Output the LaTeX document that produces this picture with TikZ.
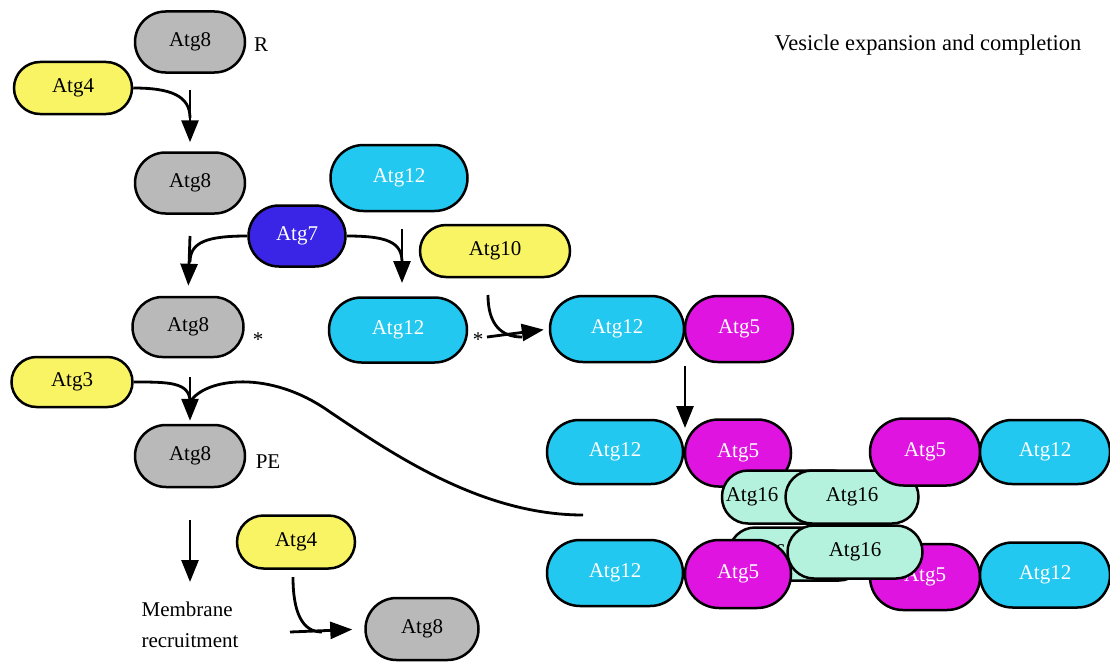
\documentclass[tikz,border=0pt]{standalone}
\usepackage{fontspec}
\setmainfont{Liberation Serif}
\usetikzlibrary{shapes.misc,arrows.meta}
\definecolor{cgray}{HTML}{B9B9B9}
\definecolor{cyel}{HTML}{F9F464}
\definecolor{ccyan}{HTML}{22C8F0}
\definecolor{cmag}{HTML}{E014E0}
\definecolor{cblue}{HTML}{3A24E6}
\definecolor{cmint}{HTML}{B4F2DE}
\begin{document}
\begin{tikzpicture}[x=1pt,y=-1pt,
  lbl/.style={font=\fontsize{21}{31}\selectfont, inner sep=0pt},
  pill/.style={rounded rectangle, draw=black, line width=2.5pt, inner sep=0pt, font=\fontsize{21}{25}\selectfont},
  sz/.style 2 args={minimum width=#1pt, minimum height=#2pt},
  g8/.style={pill, fill=cgray},
  yel/.style={pill, fill=cyel},
  cyn/.style={pill, fill=ccyan, text=white},
  mag/.style={pill, fill=cmag, text=white},
  blu/.style={pill, fill=cblue, text=white},
  mint/.style={pill, fill=cmint},
  mintback/.style={rectangle, rounded corners=26pt, draw=black, line width=2.5pt, inner sep=0pt, fill=cmint, font=\fontsize{21}{25}\selectfont},
  ln/.style={line width=2.8pt},
  arr/.style={line width=2.8pt, -{Triangle[length=22pt,width=17pt]}}]
\useasboundingbox (0,0) rectangle (1110,661);
% left column
\node[g8,sz={110}{61}] (r8) at (190,42) {Atg8};
\node[lbl] (rl) at (261,45) {R};
\node[yel,sz={118}{52}] (a4) at (73,88) {Atg4};
\node[g8,sz={110}{61}] (b8) at (190,183) {Atg8};
\node[cyn,sz={137}{66}] (t12) at (399,178) {Atg12};
\node[blu,sz={97}{61}] (a7) at (297,236) {Atg7};
\node[yel,sz={150}{52}] (a10) at (495,251) {Atg10};
\node[g8,sz={111}{60}] (s8) at (188,327) {Atg8};
\node[lbl] (st1) at (258,340) {*};
\node[cyn,sz={138}{65}] (m12) at (398,330) {Atg12};
\node[lbl] (st2) at (478,340) {*};
\node[cyn,sz={134}{66}] (c12) at (617,329) {Atg12};
\node[mag,sz={108}{66}] (c5) at (739,329) {Atg5};
\node[yel,sz={121}{50}] (a3) at (72,382) {Atg3};
\node[g8,sz={110}{62}] (p8) at (190,456) {Atg8};
\node[lbl] (pe) at (268,462) {PE};
\node[lbl, align=left] (mr) at (190,625) {Membrane\\recruitment};
\node[yel,sz={118}{53}] (b4) at (296,542) {Atg4};
\node[g8,sz={113}{62}] (e8) at (422,629) {Atg8};
\node[lbl, font=\fontsize{22.5}{27}\selectfont] (title) at (928,45) {Vesicle expansion and completion};
% complex, upper row
\node[cyn,sz={136}{64}] (u12a) at (615,452) {Atg12};
\node[mag,sz={106}{67}] (u5a) at (738,453) {Atg5};
\node[mintback,sz={136}{53}] (u16b) at (790,497) {Atg16\kern76pt};
\node[mint,sz={133}{53}] (u16f) at (852,497) {Atg16};
\node[mag,sz={110}{67}] (u5b) at (925,452) {Atg5};
\node[cyn,sz={130}{64}] (u12b) at (1045,452) {Atg12};
% complex, lower row
\node[mintback,sz={136}{53}] (l16b) at (797,554) {Atg16\kern76pt};
\node[cyn,sz={136}{66}] (l12a) at (615,573) {Atg12};
\node[mag,sz={106}{68}] (l5a) at (738,574) {Atg5};
\node[mag,sz={110}{66}] (l5b) at (925,577) {Atg5};
\node[cyn,sz={130}{65}] (l12b) at (1045,575) {Atg12};
\node[mint,sz={135}{53}] (l16f) at (855,552) {Atg16};
% junction coordinates
\coordinate (j1) at (190,90);   \coordinate (k1) at (190,118);
\coordinate (j2) at (190,236);  \coordinate (k2) at (190,262);
\coordinate (j3) at (402,229);  \coordinate (k3) at (402,262); \coordinate (t3) at (402,283);
\coordinate (s4) at (488,295);  \coordinate (j4) at (487,337); \coordinate (k4) at (522,337);
\coordinate (j5) at (685,366);  \coordinate (t5) at (685,428);
\coordinate (j6) at (190,377);  \coordinate (k6) at (190,402); \coordinate (e6) at (583,515);
\coordinate (j7) at (190,520);  \coordinate (t7) at (190,582);
\coordinate (s9) at (293,577);  \coordinate (j9) at (290,632); \coordinate (k9) at (322,632);
% connectors
\draw[arr, shorten >=9pt] (j1) -- (b8.north);
\draw[ln] (a4.east) .. controls +(38,0) and +(0,-22) .. (k1);
\draw[arr, shorten >=10pt] (j2) -- (s8.north);
\draw[ln] (a7.west) .. controls +(-40,0) and +(0,-20) .. (k2);
\draw[arr] (j3) -- (t3);
\draw[ln] (a7.east) .. controls +(40,0) and +(0,-20) .. (k3);
\draw[arr, shorten >=5pt] (j4) -- (c12.west);
\draw[ln] (s4) .. controls +(0,28) and +(-22,0) .. (k4);
\draw[arr] (j5) -- (t5);
\draw[arr, shorten >=3pt] (j6) -- (p8.north);
\draw[ln] (a3.east) .. controls +(35,0) and +(0,-20) .. (k6);
\draw[ln] (k6) .. controls (205,378) and (270,369) .. (330,412) .. controls (390,452) and (480,515) .. (e6);
\draw[arr] (j7) -- (t7);
\draw[arr, shorten >=12pt] (j9) -- (e8.west);
\draw[ln] (s9) .. controls +(0,35) and +(-20,0) .. (k9);
\end{tikzpicture}
\end{document}
